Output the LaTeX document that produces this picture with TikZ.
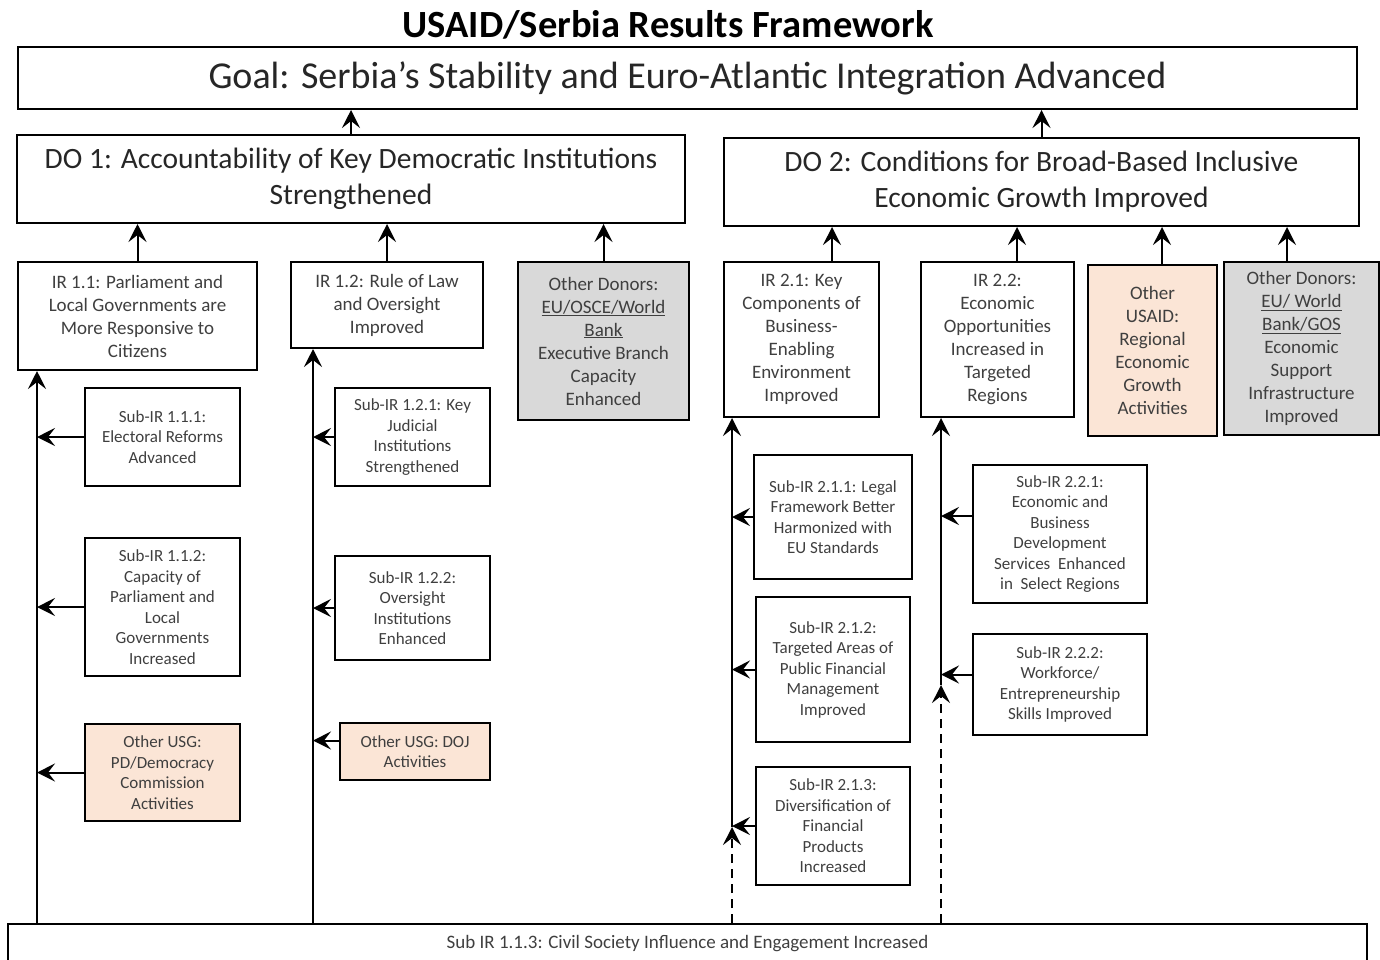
\documentclass[tikz,border=0pt]{standalone}
\usepackage{fontspec}
\setmainfont{Carlito}
\usetikzlibrary{arrows.meta}
\definecolor{peach}{HTML}{FBE5D6}
\definecolor{donorgray}{HTML}{D9D9D9}
\definecolor{txt}{HTML}{3F3F3F}

\begin{document}
\begin{tikzpicture}[x=1pt,y=-1pt,
    box/.style={draw=black,line width=2pt,align=center,inner sep=2pt,text=txt},
    dobox/.style={box,text=black!85,font=\fontsize{29.5}{36}\selectfont},
    irbox/.style={box,font=\fontsize{19}{23}\selectfont},
    subbox/.style={box,font=\fontsize{17}{20.5}\selectfont},
    usg/.style={subbox,fill=peach},
    donor/.style={irbox,fill=donorgray},
    up/.style={line width=2pt,-{Stealth[length=18pt,width=18pt,inset=7pt]}},
    feed/.style={up,dash pattern=on 9pt off 6pt}]
  \clip (0,0) rectangle (1380,959);
  \node[font=\bfseries\fontsize{38.5}{40}\selectfont] (title) at (668,25) {USAID/Serbia Results Framework};
  \node[box,text=black!85,font=\fontsize{38}{40}\selectfont,minimum width=1339,minimum height=62] (goal) at (687.5,78)
    {Goal: Serbia’s Stability and Euro-Atlantic Integration Advanced};
  \node[dobox,minimum width=668,minimum height=88] (do1) at (351,179)
    {DO 1: Accountability of Key Democratic Institutions\\Strengthened};
  \node[dobox,minimum width=635,minimum height=88] (do2) at (1041.5,182)
    {DO 2: Conditions for Broad-Based Inclusive\\Economic Growth Improved};
  \draw[up] (do1.north) -- (do1.north |- goal.south);
  \draw[up] (do2.north) -- (do2.north |- goal.south);

  % DO 1 column
  \node[irbox,minimum width=239,minimum height=108] (ir11) at (137.5,316)
    {IR 1.1: Parliament and\\Local Governments are\\More Responsive to\\Citizens};
  \node[irbox,minimum width=192,minimum height=86] (ir12) at (387,305)
    {IR 1.2: Rule of Law\\and Oversight\\Improved};
  \node[donor,minimum width=171,minimum height=158] (don1) at (603.5,341)
    {Other Donors:\\\underline{EU/OSCE/World}\\\underline{Bank}\\Executive Branch\\Capacity\\Enhanced};
  \draw[up] (ir11.north) -- (ir11.north |- do1.south);
  \draw[up] (ir12.north) -- (ir12.north |- do1.south);
  \draw[up] (don1.north) -- (don1.north |- do1.south);

  \node[subbox,minimum width=155,minimum height=98] (s111) at (162.5,437)
    {Sub-IR 1.1.1:\\Electoral Reforms\\Advanced};
  \node[subbox,minimum width=155,minimum height=138] (s112) at (162.5,607)
    {Sub-IR 1.1.2:\\Capacity of\\Parliament and\\Local\\Governments\\Increased};
  \node[usg,minimum width=155,minimum height=97] (pd) at (162.5,772.5)
    {Other USG:\\PD/Democracy\\Commission\\Activities};
  \node[subbox,minimum width=155,minimum height=98] (s121) at (412.5,437)
    {Sub-IR 1.2.1: Key\\Judicial\\Institutions\\Strengthened};
  \node[subbox,minimum width=155,minimum height=104] (s122) at (412.5,608)
    {Sub-IR 1.2.2:\\Oversight\\Institutions\\Enhanced};
  \node[usg,minimum width=150,minimum height=57] (doj) at (415,751.5)
    {Other USG: DOJ\\Activities};

  % DO 2 column
  \node[irbox,minimum width=155,minimum height=155] (ir21) at (801.5,339.5)
    {IR 2.1: Key\\Components of\\Business-\\Enabling\\Environment\\Improved};
  \node[irbox,minimum width=153,minimum height=155] (ir22) at (997.5,339.5)
    {IR 2.2:\\Economic\\Opportunities\\Increased in\\Targeted\\Regions};
  \node[irbox,fill=peach,minimum width=129,minimum height=171] (usaid) at (1152.5,350.5)
    {Other\\USAID:\\Regional\\Economic\\Growth\\Activities};
  \node[donor,minimum width=155,minimum height=173] (don2) at (1301.5,348.5)
    {Other Donors:\\\underline{EU/ World}\\\underline{Bank/GOS}\\Economic\\Support\\Infrastructure\\Improved};
  \coordinate (a21) at (832,262);
  \coordinate (a22) at (1017,262);
  \coordinate (a23) at (1162,265);
  \coordinate (a24) at (1287,262);
  \draw[up] (a21) -- (a21 |- do2.south);
  \draw[up] (a22) -- (a22 |- do2.south);
  \draw[up] (a23) -- (a23 |- do2.south);
  \draw[up] (a24) -- (a24 |- do2.south);

  \node[subbox,minimum width=158,minimum height=124] (s211) at (833,517)
    {Sub-IR 2.1.1: Legal\\Framework Better\\Harmonized with\\EU Standards};
  \node[subbox,minimum width=154,minimum height=145] (s212) at (833,669.5)
    {Sub-IR 2.1.2:\\Targeted Areas of\\Public Financial\\Management\\Improved};
  \node[subbox,minimum width=154,minimum height=118] (s213) at (833,826)
    {Sub-IR 2.1.3:\\Diversification of\\Financial\\Products\\Increased};
  \node[subbox,minimum width=174,minimum height=138] (s221) at (1060,534)
    {Sub-IR 2.2.1:\\Economic and\\Business\\Development\\Services\ \ Enhanced\\in\ \ Select Regions};
  \node[subbox,minimum width=174,minimum height=101] (s222) at (1060,684.5)
    {Sub-IR 2.2.2:\\Workforce/\\Entrepreneurship\\Skills Improved};

  \node[box,anchor=north,font=\fontsize{19}{20}\selectfont,minimum width=1359,minimum height=40] (bot) at (687.5,923)
    {Sub IR 1.1.3: Civil Society Influence and Engagement Increased};

  % spines up from civil society
  \coordinate (v11) at (37,923);
  \coordinate (v12) at (313,923);
  \coordinate (f21) at (732,923);
  \coordinate (j21) at (732,827);
  \coordinate (f22) at (941,923);
  \coordinate (j22) at (941,685);
  \draw[up] (v11) -- (v11 |- ir11.south);
  \draw[up] (v12) -- (v12 |- ir12.south);
  \draw[feed] (f21) -- (j21);
  \draw[up] (j21) -- (j21 |- ir21.south);
  \draw[feed] (f22) -- (j22);
  \draw[up] (j22) -- (j22 |- ir22.south);

  \draw[up] (s111.west) -- (s111.west -| v11);
  \draw[up] (s112.west) -- (s112.west -| v11);
  \draw[up] (pd.west) -- (pd.west -| v11);
  \draw[up] (s121.west) -- (s121.west -| v12);
  \draw[up] (s122.west) -- (s122.west -| v12);
  \draw[up] (doj.west) ++(0,-11) coordinate (edoj) -- (edoj -| v12);
  \draw[up] (s211.west) -- (s211.west -| j21);
  \draw[up] (s212.west) -- (s212.west -| j21);
  \draw[up] (s213.west) -- (s213.west -| j21);
  \draw[up] (s221.west) ++(0,-18) coordinate (e221) -- (e221 -| j22);
  \draw[up] (s222.west) ++(0,-10) coordinate (e222) -- (e222 -| j22);
\end{tikzpicture}
\end{document}
